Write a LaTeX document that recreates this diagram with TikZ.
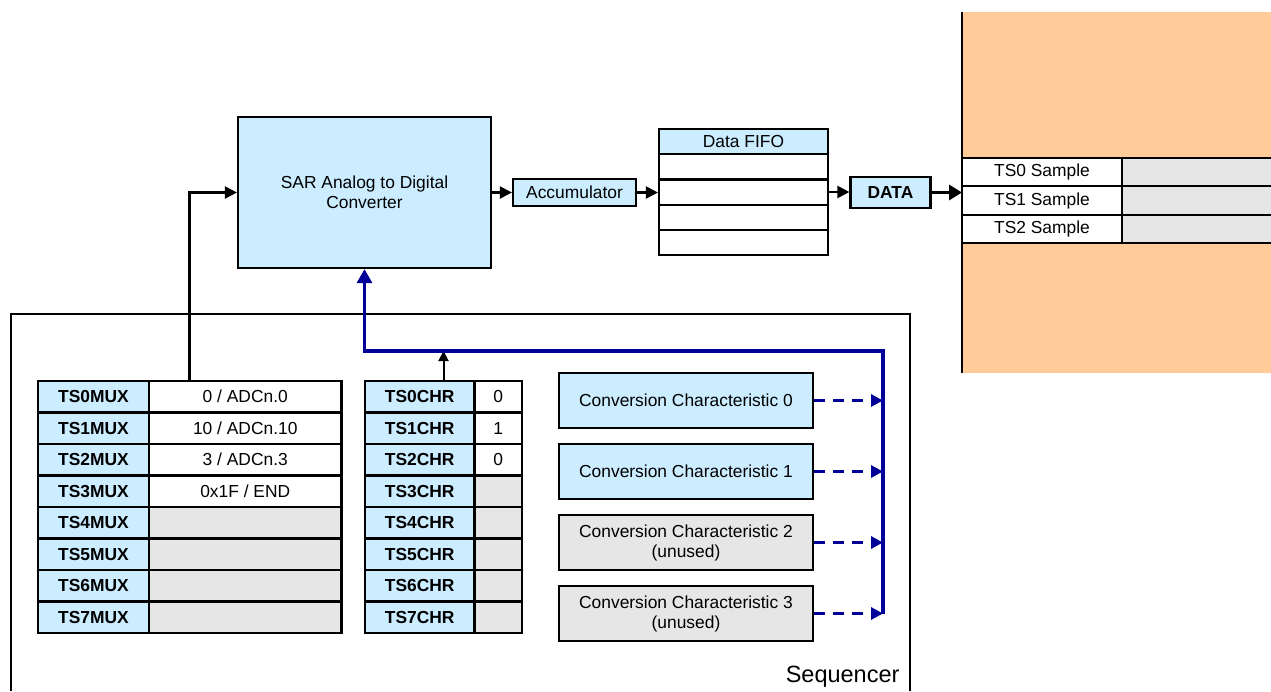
\documentclass[tikz,border=0pt]{standalone}
\usepackage{fontspec}
\setmainfont{Liberation Sans}
\usetikzlibrary{arrows.meta,calc}
\definecolor{lblue}{HTML}{CCECFF}
\definecolor{ugray}{HTML}{E6E6E6}
\definecolor{memorange}{HTML}{FFCC99}
\definecolor{busblue}{HTML}{000099}
\begin{document}
\begin{tikzpicture}[x=1pt,y=-1pt,
  every node/.style={font=\fontsize{17.4}{20}\selectfont},
  boxbase/.style={draw,line width=2.2pt,inner sep=0pt,align=center},
  bluebox/.style={boxbase,fill=lblue},
  whitebox/.style={boxbase,fill=white},
  graybox/.style={boxbase,fill=ugray},
  lblcell/.style={bluebox,font=\fontsize{17.4}{20}\selectfont\bfseries},
  arr/.style={line width=2.2pt,-{Triangle[length=12pt,width=12pt]}},
  smallarr/.style={line width=2pt,-{Triangle[length=10pt,width=10pt]}},
  thickarr/.style={line width=3.5pt,-{Triangle[length=13pt,width=15pt]}},
  busline/.style={line width=3.2pt,busblue},
  dashbus/.style={line width=3.2pt,busblue,dash pattern=on 11pt off 8pt,-{Triangle[length=12pt,width=12pt]}}
]
\useasboundingbox (0,0) rectangle (1271,691);

% memory region
\node[fill=memorange,inner sep=0pt,minimum width=311pt,minimum height=361pt,anchor=north west] (mem) at (962,12) {};
\draw[line width=2.2pt] (mem.north west) -- (mem.south west);
\foreach \i in {0,1,2}{
  \node[graybox,minimum width=152pt,minimum height=28.33pt] (sr\i) at (1198,{172.17+28.33*\i}) {};
  \node[whitebox,minimum width=160pt,minimum height=28.33pt] (sl\i) at (1042,{172.17+28.33*\i}) {TS\i\ Sample};
}

% SAR ADC
\node[bluebox,minimum width=253pt,minimum height=151pt] (sar) at (364.5,192.5) {SAR Analog to Digital\\Converter};
% Accumulator
\node[bluebox,minimum width=123pt,minimum height=27pt] (acc) at (574.5,192.5) {Accumulator};
% Data FIFO
\node[bluebox,minimum width=169pt,minimum height=25.2pt] (fh) at (743.5,141.6) {Data FIFO};
\foreach \i in {1,2,3,4}{
  \node[whitebox,minimum width=169pt,minimum height=25.2pt] (f\i) at (743.5,{141.6+25.2*\i}) {};
}
% DATA
\node[bluebox,minimum width=80pt,minimum height=31pt,font=\fontsize{17.4}{20}\selectfont\bfseries] (data) at (890.5,192.5) {DATA};

% Sequencer outline
\draw[line width=1.8pt] (11,691) -- (11,314) -- (910,314) -- (910,691);
\node[font=\fontsize{23.5}{28}\selectfont,anchor=base east] (seqlbl) at (903,682) {Sequencer};

% MUX table
\foreach \i in {0,...,7}{
  \node[lblcell,minimum width=111pt,minimum height=31.5pt] (ml\i) at (93.5,{396.75+31.5*\i}) {TS\i MUX};
}
\foreach \i/\v in {0/{0 / ADCn.0},1/{10 / ADCn.10},2/{3 / ADCn.3},3/{0x1F / END}}{
  \node[whitebox,minimum width=192.5pt,minimum height=31.5pt] (mv\i) at (245.25,{396.75+31.5*\i}) {\v};
}
\foreach \i in {4,...,7}{
  \node[graybox,minimum width=192.5pt,minimum height=31.5pt] (mv\i) at (245.25,{396.75+31.5*\i}) {};
}

% CHR table
\foreach \i in {0,...,7}{
  \node[lblcell,minimum width=109.5pt,minimum height=31.5pt] (cl\i) at (419.75,{396.75+31.5*\i}) {TS\i CHR};
}
\foreach \i/\v in {0/0,1/1,2/0}{
  \node[whitebox,minimum width=47.5pt,minimum height=31.5pt] (cv\i) at (498.25,{396.75+31.5*\i}) {\v};
}
\foreach \i in {3,...,7}{
  \node[graybox,minimum width=47.5pt,minimum height=31.5pt] (cv\i) at (498.25,{396.75+31.5*\i}) {};
}

% Conversion characteristics
\node[bluebox,minimum width=254pt,minimum height=55pt] (cc0) at (686,400.5) {Conversion Characteristic 0};
\node[bluebox,minimum width=254pt,minimum height=55pt] (cc1) at (686,471.5) {Conversion Characteristic 1};
\node[graybox,minimum width=254pt,minimum height=55pt] (cc2) at (686,542.5) {Conversion Characteristic 2\\(unused)};
\node[graybox,minimum width=254pt,minimum height=55pt] (cc3) at (686,613.5) {Conversion Characteristic 3\\(unused)};

% bus coordinates
\coordinate (busR) at (883,351);
\coordinate (muxout) at (189.5,381);
\coordinate (chrout) at (443.5,381);

% connectors
\draw[arr] (muxout) |- (sar.west);
\draw[arr] (sar.east) -- (acc.west);
\draw[arr] (acc.east) -- (acc.east -| f2.west);
\draw[arr] (f2.east) -- (f2.east -| data.west);
\draw[thickarr] (data.east) -- (data.east -| mem.west);
\draw[smallarr] (chrout) -- (chrout |- busR);
\draw[busline,-{Triangle[length=14pt,width=15pt]}] (busR |- cc3.east) -- (busR) -- (sar.south |- busR) -- (sar.south);
\foreach \i in {0,...,3}{
  \draw[dashbus] (cc\i.east) -- (cc\i.east -| busR);
}
\end{tikzpicture}
\end{document}
